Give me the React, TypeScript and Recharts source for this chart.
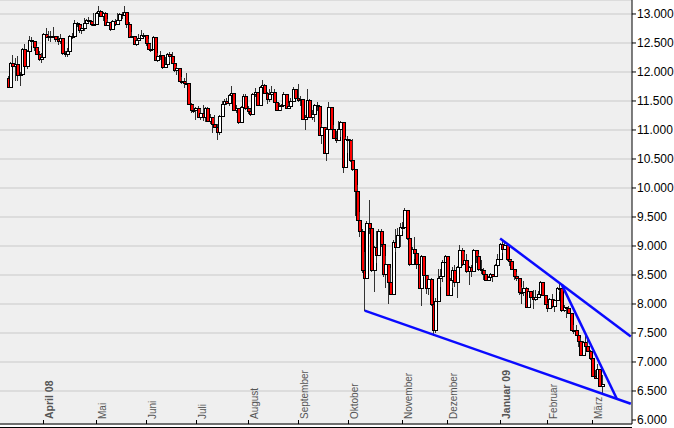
import React from 'react'
import {
  ComposedChart,
  Bar,
  XAxis,
  YAxis,
  CartesianGrid,
  ReferenceLine,
} from 'recharts'

// trading days shown on the chart (Dow Jones, daily candles)
const dates = [
  '2008-03-10','2008-03-11','2008-03-12','2008-03-13','2008-03-14','2008-03-17','2008-03-18','2008-03-19','2008-03-20','2008-03-24','2008-03-25','2008-03-26','2008-03-27','2008-03-28','2008-03-31',
  '2008-04-01','2008-04-02','2008-04-03','2008-04-04','2008-04-07','2008-04-08','2008-04-09','2008-04-10','2008-04-11','2008-04-14','2008-04-15','2008-04-16','2008-04-17','2008-04-18','2008-04-21','2008-04-22','2008-04-23','2008-04-24','2008-04-25','2008-04-28','2008-04-29','2008-04-30',
  '2008-05-01','2008-05-02','2008-05-05','2008-05-06','2008-05-07','2008-05-08','2008-05-09','2008-05-12','2008-05-13','2008-05-14','2008-05-15','2008-05-16','2008-05-19','2008-05-20','2008-05-21','2008-05-22','2008-05-23','2008-05-27','2008-05-28','2008-05-29','2008-05-30',
  '2008-06-02','2008-06-03','2008-06-04','2008-06-05','2008-06-06','2008-06-09','2008-06-10','2008-06-11','2008-06-12','2008-06-13','2008-06-16','2008-06-17','2008-06-18','2008-06-19','2008-06-20','2008-06-23','2008-06-24','2008-06-25','2008-06-26','2008-06-27','2008-06-30',
  '2008-07-01','2008-07-02','2008-07-03','2008-07-07','2008-07-08','2008-07-09','2008-07-10','2008-07-11','2008-07-14','2008-07-15','2008-07-16','2008-07-17','2008-07-18','2008-07-21','2008-07-22','2008-07-23','2008-07-24','2008-07-25','2008-07-28','2008-07-29','2008-07-30','2008-07-31',
  '2008-08-01','2008-08-04','2008-08-05','2008-08-06','2008-08-07','2008-08-08','2008-08-11','2008-08-12','2008-08-13','2008-08-14','2008-08-15','2008-08-18','2008-08-19','2008-08-20','2008-08-21','2008-08-22','2008-08-25','2008-08-26','2008-08-27','2008-08-28','2008-08-29',
  '2008-09-02','2008-09-03','2008-09-04','2008-09-05','2008-09-08','2008-09-09','2008-09-10','2008-09-11','2008-09-12','2008-09-15','2008-09-16','2008-09-17','2008-09-18','2008-09-19','2008-09-22','2008-09-23','2008-09-24','2008-09-25','2008-09-26','2008-09-29','2008-09-30',
  '2008-10-01','2008-10-02','2008-10-03','2008-10-06','2008-10-07','2008-10-08','2008-10-09','2008-10-10','2008-10-13','2008-10-14','2008-10-15','2008-10-16','2008-10-17','2008-10-20','2008-10-21','2008-10-22','2008-10-23','2008-10-24','2008-10-27','2008-10-28','2008-10-29','2008-10-30','2008-10-31',
  '2008-11-03','2008-11-04','2008-11-05','2008-11-06','2008-11-07','2008-11-10','2008-11-11','2008-11-12','2008-11-13','2008-11-14','2008-11-17','2008-11-18','2008-11-19','2008-11-20','2008-11-21','2008-11-24','2008-11-25','2008-11-26','2008-11-28',
  '2008-12-01','2008-12-02','2008-12-03','2008-12-04','2008-12-05','2008-12-08','2008-12-09','2008-12-10','2008-12-11','2008-12-12','2008-12-15','2008-12-16','2008-12-17','2008-12-18','2008-12-19','2008-12-22','2008-12-23','2008-12-24','2008-12-26','2008-12-29','2008-12-30','2008-12-31',
  '2009-01-02','2009-01-05','2009-01-06','2009-01-07','2009-01-08','2009-01-09','2009-01-12','2009-01-13','2009-01-14','2009-01-15','2009-01-16','2009-01-20','2009-01-21','2009-01-22','2009-01-23','2009-01-26','2009-01-27','2009-01-28','2009-01-29','2009-01-30',
  '2009-02-02','2009-02-03','2009-02-04','2009-02-05','2009-02-06','2009-02-09','2009-02-10','2009-02-11','2009-02-12','2009-02-13','2009-02-17','2009-02-18','2009-02-19','2009-02-20','2009-02-23','2009-02-24','2009-02-25','2009-02-26','2009-02-27',
  '2009-03-02','2009-03-03','2009-03-04','2009-03-05','2009-03-06',
]

const open = [
  11894,11740,12157,12110,12146,11951,11972,12393,12100,12361,12549,12533,12423,12302,12216,
  12263,12654,12606,12626,12609,12612,12576,12527,12582,12325,12302,12362,12619,12620,12849,12825,12720,12763,12849,12892,12872,12831,
  12820,13010,13058,12970,13021,12814,12867,12746,12876,12832,12898,12993,12987,13028,12829,12601,12626,12480,12548,12594,12646,
  12638,12504,12403,12390,12604,12210,12280,12290,12084,12142,12307,12269,12160,12029,12063,11843,11842,11807,11812,11453,11347,
  11350,11382,11216,11289,11232,11384,11147,11229,11101,11055,10963,11239,11447,11497,11467,11603,11632,11349,11371,11131,11398,11584,
  11378,11326,11284,11616,11656,11431,11734,11782,11642,11533,11616,11660,11479,11349,11417,11430,11628,11386,11413,11503,11715,
  11544,11517,11533,11188,11221,11511,11231,11269,11434,11422,10918,11059,10610,11020,11388,11016,10854,10825,11022,11143,10365,
  10851,10831,10483,10325,9956,9447,9258,8579,8451,9388,9311,8578,8979,8852,9265,9034,8519,8691,8379,8176,9065,8991,9181,
  9325,9320,9625,9139,8696,8944,8871,8694,8283,8835,8497,8274,8425,7997,7552,8046,8443,8479,8727,
  8829,8149,8419,8592,8376,8635,8934,8691,8761,8565,8630,8565,8924,8824,8605,8579,8520,8419,8468,8516,8484,8668,
  8776,9035,8953,9015,8770,8742,8599,8474,8449,8200,8212,8281,7949,8228,8123,8078,8116,8175,8375,8149,
  8001,7937,8078,7957,8063,8281,8271,7889,7940,7933,7850,7553,7556,7466,7366,7115,7351,7271,7182,
  7063,6763,6726,6876,6594,
]

const high = [
  11929,12180,12300,12240,12270,12000,12420,12480,12385,12620,12600,12540,12450,12370,12320,
  12680,12750,12700,12700,12780,12620,12620,12650,12582,12370,12410,12640,12670,12900,12860,12830,12800,12930,12920,12940,12890,13010,
  13030,13140,13060,13040,13040,12920,12870,12890,12920,13020,13010,13040,13140,13028,12860,12690,12626,12580,12650,12720,12680,
  12640,12570,12480,12620,12604,12330,12360,12300,12260,12330,12340,12340,12170,12110,12063,11920,11900,11980,11812,11470,11430,
  11400,11420,11370,11430,11400,11390,11270,11230,11260,11110,11260,11500,11540,11560,11620,11750,11632,11430,11380,11420,11620,11620,
  11420,11360,11630,11720,11656,11760,11860,11790,11660,11700,11750,11700,11490,11460,11450,11650,11628,11460,11560,11740,11715,
  11790,11590,11533,11250,11700,11530,11350,11450,11480,11422,11100,11059,11060,11480,11390,11080,10980,11150,11160,11143,10880,
  10900,10840,10850,10330,10050,9590,9300,8900,9430,9800,9311,9000,9260,9290,9300,9034,8820,8691,8620,9100,9290,9310,9400,
  9420,9650,9625,9139,8990,9150,8880,8694,8850,8835,8500,8500,8440,8000,8100,8600,8600,8750,8840,
  8829,8440,8630,8680,8650,9020,8970,8900,8860,8650,8670,8950,8930,8870,8760,8620,8570,8490,8530,8520,8690,8860,
  9050,9090,9090,9015,8780,8760,8610,8560,8449,8300,8400,8290,8240,8228,8240,8240,8220,8400,8375,8160,
  8010,8100,8170,8090,8300,8340,8271,7980,7950,7970,7850,7640,7640,7466,7410,7370,7450,7390,7200,
  7063,6860,6960,6876,6770,
]

const low = [
  11731,11741,12090,11850,11840,11750,11972,12090,12050,12360,12440,12360,12290,12190,12160,
  12260,12580,12540,12520,12590,12520,12470,12480,12300,12260,12250,12360,12560,12620,12770,12680,12650,12700,12760,12850,12790,12790,
  12820,13000,12950,12880,12800,12800,12700,12740,12790,12830,12850,12920,12960,12750,12580,12580,12460,12450,12520,12590,12600,
  12440,12380,12350,12380,12190,12180,12200,12060,12080,12140,12170,12150,12000,11950,11820,11800,11730,11790,11440,11290,11300,
  11180,11200,11180,11160,11130,11130,11100,10950,11040,10830,10920,11230,11400,11430,11410,11580,11330,11290,11110,11130,11380,11350,
  11270,11240,11280,11570,11410,11420,11720,11620,11450,11480,11610,11460,11320,11320,11330,11430,11370,11370,11400,11500,11530,
  11490,11420,11170,11000,11220,11220,11170,11130,11330,10900,10750,10600,10460,11020,11000,10840,10780,10820,10880,10260,10365,
  10610,10450,10300,9520,9430,9160,8540,7882,8450,9200,8560,8200,8700,8850,8990,8460,8270,8000,8170,8150,8900,8990,8990,
  9250,9320,9100,8650,8690,8780,8600,8260,7970,8470,8180,8150,7970,7450,7500,8046,8300,8380,8700,
  8130,8140,8280,8300,8100,8630,8650,8680,8540,8320,8460,8560,8710,8570,8520,8420,8400,8410,8450,8380,8480,8660,
  8760,8880,8950,8740,8650,8580,8410,8390,8160,8000,8140,7930,7940,8000,7910,8060,8110,8170,8130,7980,
  7870,7910,7930,7870,8050,8200,7860,7870,7750,7830,7530,7480,7440,7250,7100,7110,7150,7170,7030,
  6750,6700,6726,6590,6470,
]

const close = [
  11740,12157,12110,12146,11951,11972,12393,12100,12361,12549,12533,12423,12302,12216,12263,
  12654,12606,12626,12609,12612,12576,12527,12582,12325,12302,12362,12619,12620,12849,12825,12720,12763,12849,12892,12872,12831,12820,
  13010,13058,12970,13021,12814,12867,12746,12876,12832,12898,12993,12987,13028,12829,12601,12626,12480,12548,12594,12646,12638,
  12504,12403,12390,12604,12210,12280,12290,12084,12142,12307,12269,12160,12029,12063,11843,11842,11807,11812,11453,11347,11350,
  11382,11216,11289,11232,11384,11147,11229,11101,11055,10963,11239,11447,11497,11467,11603,11632,11349,11371,11131,11398,11584,11378,
  11326,11284,11616,11656,11431,11734,11782,11642,11533,11616,11660,11479,11349,11417,11430,11628,11386,11413,11503,11715,11544,
  11517,11533,11188,11221,11511,11231,11269,11434,11422,10918,11059,10610,11020,11388,11016,10854,10825,11022,11143,10365,10851,
  10831,10483,10325,9956,9447,9258,8579,8451,9388,9311,8578,8979,8852,9265,9034,8519,8691,8379,8176,9065,8991,9181,9325,
  9320,9625,9139,8696,8944,8871,8694,8283,8835,8497,8274,8425,7997,7552,8046,8443,8479,8727,8829,
  8149,8419,8592,8376,8635,8934,8691,8761,8565,8630,8565,8924,8824,8605,8579,8520,8419,8468,8516,8484,8668,8776,
  9035,8953,9015,8770,8742,8599,8474,8449,8200,8212,8281,7949,8228,8123,8078,8116,8175,8375,8149,8001,
  7937,8078,7957,8063,8281,8271,7889,7940,7933,7850,7553,7556,7466,7366,7115,7351,7271,7182,7063,
  6763,6726,6876,6594,6627,
]

// month ticks on the x axis
const monthTicks = ['2008-04-01','2008-05-01','2008-06-02','2008-07-01','2008-08-01','2008-09-02','2008-10-01','2008-11-03','2008-12-01','2009-01-02','2009-02-02','2009-03-02']
const monthLabels = ['April 08','Mai','Juni','Juli','August','September','Oktober','November','Dezember','Januar 09','Februar','März']
const boldLabels = ['April 08', 'Januar 09']

const priceTicks = [6000, 6500, 7000, 7500, 8000, 8500, 9000, 9500, 10000, 10500, 11000, 11500, 12000, 12500, 13000]

// hand drawn trend lines: start day / value, end day / value
const trendFrom = ['2008-10-10', '2009-01-02', '2009-02-10']
const trendFromValue = [7885, 9130, 8330]
const trendTo = ['pad-265', 'pad-265', 'pad-259']
const trendToValue = [6280, 7440, 6375]

const PAD_BEFORE = 3
const PAD_AFTER = 12

const rows: any[] = []
for (let i = 0; i < PAD_BEFORE; i++) rows.push({ d: 'pad-' + i })
dates.forEach((d, i) => {
  rows.push({ d, o: open[i], h: high[i], l: low[i], c: close[i], range: [low[i], high[i]] })
})
for (let i = 0; i < PAD_AFTER; i++) rows.push({ d: 'pad-' + (PAD_BEFORE + dates.length + i) })

const Candle = (props: any) => {
  const { x, y, width, height, payload } = props
  if (!payload || payload.h == null) return null
  const top = Math.min(y, y + height)
  const bot = Math.max(y, y + height)
  const span = payload.h - payload.l || 1
  const py = (v: number) => top + ((payload.h - v) / span) * (bot - top)
  const cx = Math.floor(x + width / 2) + 0.5
  const yo = Math.round(py(payload.o)) + 0.5
  const yc = Math.round(py(payload.c)) + 0.5
  const down = payload.c < payload.o
  const bt = Math.min(yo, yc)
  const bh = Math.max(Math.abs(yc - yo), 1)
  return (
    <g shapeRendering="crispEdges">
      <line x1={cx} x2={cx} y1={Math.round(top)} y2={Math.round(bot)} stroke="#333" strokeWidth={1} />
      <rect
        x={cx - 1.5}
        y={bt}
        width={3}
        height={bh}
        fill={down ? '#ff0000' : '#ffffff'}
        stroke="#000"
        strokeWidth={1}
      />
    </g>
  )
}

const MonthTick = (props: any) => {
  const { x, payload } = props
  const idx = monthTicks.indexOf(payload.value)
  if (idx < 0) return null
  const label = monthLabels[idx]
  const bold = boldLabels.includes(label)
  const tx = x + 9.5
  const ty = 419
  return (
    <g>
      <line x1={x} x2={x} y1={420} y2={424} stroke="#000" shapeRendering="crispEdges" />
      <text
        x={tx}
        y={ty}
        transform={`rotate(-90, ${tx}, ${ty})`}
        textAnchor="start"
        fontFamily="Liberation Sans, Arial, sans-serif"
        fontSize={bold ? 10.5 : 10}
        fontWeight={bold ? 'bold' : 'normal'}
        fill="#555"
      >
        {label}
      </text>
    </g>
  )
}

const fmt = (v: number) => `${Math.floor(v / 1000)}.${String(v % 1000).padStart(3, '0')}`

export default function App() {
  return (
    <div style={{ position: 'absolute', left: 0, top: 0, width: 674, height: 428, background: '#fff' }}>
      <ComposedChart
        width={674}
        height={428}
        data={rows}
        margin={{ top: 0, right: 0, bottom: 0, left: 0 }}
        barCategoryGap={0}
      >
        <CartesianGrid horizontal vertical={false} fill="#efefef" stroke="#d6d6d6" strokeWidth={1.5} />
        <XAxis
          dataKey="d"
          ticks={monthTicks}
          interval={0}
          height={4}
          tickLine={false}
          axisLine={{ stroke: '#000' }}
          tick={(p: any) => <MonthTick {...p} />}
        />
        <YAxis
          orientation="right"
          width={42}
          domain={[5931, 13241]}
          allowDataOverflow
          ticks={priceTicks}
          tickFormatter={fmt}
          tickSize={4}
          tickMargin={1}
          axisLine={{ stroke: '#000' }}
          tickLine={{ stroke: '#000' }}
          tick={{ fill: '#000', fontSize: 12, fontFamily: 'Liberation Sans, Arial, sans-serif', textAnchor: 'start' }}
        />
        <Bar dataKey="range" barSize={3} shape={<Candle />} isAnimationActive={false} />
        {trendFrom.map((from, i) => (
          <ReferenceLine
            key={i}
            segment={[
              { x: from, y: trendFromValue[i] },
              { x: trendTo[i], y: trendToValue[i] },
            ]}
            stroke="#0a0aff"
            strokeWidth={2.5}
            ifOverflow="visible"
          />
        ))}
      </ComposedChart>
      <div style={{ position: 'absolute', left: 0, top: 427, width: 632, height: 1, background: '#000' }} />
    </div>
  )
}
